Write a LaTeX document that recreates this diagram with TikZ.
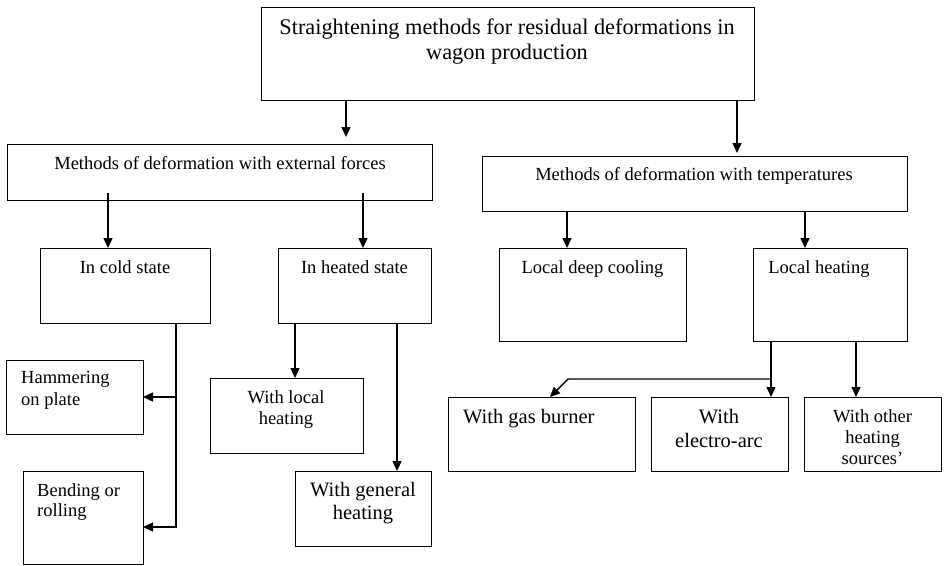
\documentclass[tikz,border=0pt]{standalone}
\usepackage{fontspec}
\setmainfont{Liberation Serif}
\usetikzlibrary{arrows.meta}
\begin{document}
\begin{tikzpicture}[x=1pt,y=-1pt,
 box/.style={draw, line width=0.9pt, anchor=north west, inner sep=0pt, outer sep=0pt},
 lbl/.style={inner sep=0pt, anchor=north, align=center},
 lbll/.style={inner sep=0pt, anchor=north west, align=left},
 fA/.style={font=\fontsize{18.5}{21}\selectfont},
 fB/.style={font=\fontsize{20.5}{23.5}\selectfont},
 fT/.style={font=\fontsize{22.3}{25}\selectfont},
 ln/.style={line width=1.4pt},
 arr/.style={ln, -{Triangle[length=10pt,width=9pt]}},
]
\path[use as bounding box] (0,0) rectangle (944,565);

% boxes
\node[box, minimum width=493pt, minimum height=93pt] (title) at (261,7) {};
\node[box, minimum width=425pt, minimum height=56pt] (mext) at (7,144) {};
\node[box, minimum width=425pt, minimum height=55pt] (mtemp) at (482,156) {};
\node[box, minimum width=170pt, minimum height=75pt] (cold) at (40,248) {};
\node[box, minimum width=153pt, minimum height=75pt] (heated) at (278,248) {};
\node[box, minimum width=187pt, minimum height=93pt] (cool) at (499,248) {};
\node[box, minimum width=154pt, minimum height=93pt] (lheat) at (753,248) {};
\node[box, minimum width=137pt, minimum height=74pt] (ham) at (6,360) {};
\node[box, minimum width=120pt, minimum height=93pt] (bend) at (23,471) {};
\node[box, minimum width=153pt, minimum height=75pt] (wlocal) at (210,378) {};
\node[box, minimum width=136pt, minimum height=75pt] (wgen) at (295,471) {};
\node[box, minimum width=187pt, minimum height=74pt] (gas) at (448,397) {};
\node[box, minimum width=137pt, minimum height=74pt] (arc) at (651,397) {};
\node[box, minimum width=137pt, minimum height=74pt] (other) at (804,397) {};

% texts
\node[lbl, fT] (titleT) at (507,19) {Straightening methods for residual deformations in\\wagon production};
\node[lbl, fA] (mextT) at (220,156) {Methods of deformation with external forces};
\node[lbl, fA] (mtempT) at (694,167) {Methods of deformation with temperatures};
\node[lbl, fA] (coldT) at (125,260) {In cold state};
\node[lbl, fA] (heatedT) at (354.5,260) {In heated state};
\node[lbl, fA] (coolT) at (592.5,260) {Local deep cooling};
\node[lbl, fA] (lheatT) at (819,260) {Local heating};
\node[lbll, font=\fontsize{18.5}{22}\selectfont] (hamT) at (21,371) {Hammering\\on plate};
\node[lbll, font=\fontsize{18.5}{20}\selectfont] (bendT) at (37,483) {Bending or\\rolling};
\node[lbl, fA] (wlocalT) at (286,390) {With local\\heating};
\node[lbl, fB] (wgenT) at (363,482) {With general\\heating};
\node[lbll, fB] (gasT) at (463,409) {With gas burner};
\node[lbl, font=\fontsize{20.5}{24.5}\selectfont] (arcT) at (719,409) {With\\electro-arc};
\node[lbl, fA] (otherT) at (872.5,409) {With other\\heating\\sources’};

% coordinates
\coordinate (a1) at (346,137);
\coordinate (a2) at (737,153);
\coordinate (s3) at (108,193);
\coordinate (s4) at (363,193);
\coordinate (x5) at (567,0);
\coordinate (x6) at (805,0);
\coordinate (k7) at (176,527);
\coordinate (x8) at (295,0);
\coordinate (x9) at (397,0);
\coordinate (x10) at (771,0);
\coordinate (j1) at (771,379);
\coordinate (j2) at (568,379);
\coordinate (x11) at (550,0);
\coordinate (x12) at (856,0);

% connectors
\draw[arr] (title.south -| a1) -- (a1);
\draw[arr] (title.south -| a2) -- (a2);
\draw[arr] (s3) -- (cold.north -| s3);
\draw[arr] (s4) -- (heated.north -| s4);
\draw[arr] (mtemp.south -| x5) -- (cool.north -| x5);
\draw[arr] (mtemp.south -| x6) -- (lheat.north -| x6);
\draw[arr] (cold.south -| k7) -- (k7) -- (k7 -| bend.east);
\draw[arr] (ham.east -| k7) -- (ham.east);
\draw[arr] (heated.south -| x8) -- (wlocal.north -| x8);
\draw[arr] (heated.south -| x9) -- (wgen.north -| x9);
\draw[arr] (lheat.south -| x10) -- (arc.north -| x10);
\draw[arr] (j1) -- (j2) -- (gas.north -| x11);
\draw[arr] (lheat.south -| x12) -- (other.north -| x12);
\end{tikzpicture}
\end{document}
